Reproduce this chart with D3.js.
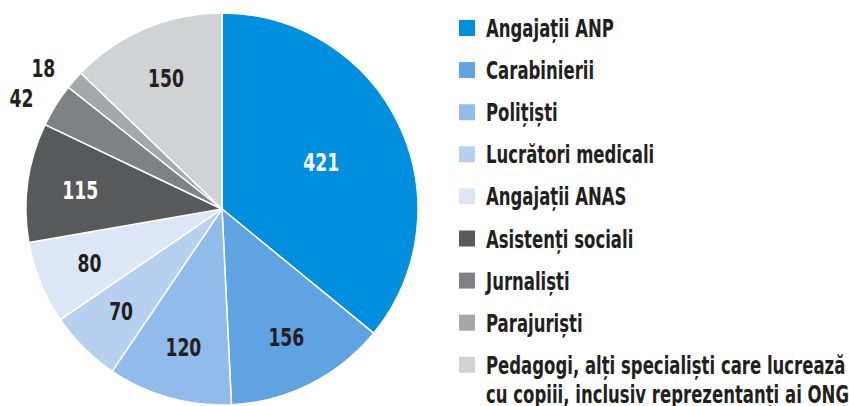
<!DOCTYPE html>
<html>
<head>
<meta charset="utf-8">
<script src="https://cdn.jsdelivr.net/npm/d3@7"></script>
<style>
  body { margin: 0; background: #fff; }
  svg text { font-family: "Liberation Sans Narrow", "DejaVu Sans Condensed", "Roboto", sans-serif; font-weight: bold; }
</style>
</head>
<body>
<div id="chart"></div>
<script>
/* Data */
var categories = ["Angajații ANP", "Carabinierii", "Polițiști", "Lucrători medicali", "Angajații ANAS",
                  "Asistenți sociali", "Jurnaliști", "Parajuriști",
                  "Pedagogi, alți specialiști care lucrează|cu copiii, inclusiv reprezentanți ai ONG"];
var values = [421, 156, 120, 70, 80, 115, 42, 18, 150];
var colors = ["#008fdf", "#5fa3e3", "#90bbeb", "#b8d0f0", "#dde6f7", "#58595b", "#808184", "#a6a7a9", "#d1d2d4"];

var width = 849, height = 406,
    cx = 222, cy = 209, radius = 196,
    squeeze = 0.765;   // fake a condensed face

var svg = d3.select("#chart").append("svg").attr("width", width).attr("height", height);

var data = values.map(function(v, i) { return {name: categories[i], value: v, color: colors[i]}; });

var pie = d3.pie().sort(null).value(function(d) { return d.value; });
var arc = d3.arc().innerRadius(0).outerRadius(radius);
var arcs = pie(data);

var g = svg.append("g").attr("transform", "translate(" + cx + "," + cy + ")");

g.selectAll("path")
  .data(arcs)
  .enter().append("path")
    .attr("d", arc)
    .attr("fill", function(d) { return d.data.color; })
    .attr("stroke", "#fff")
    .attr("stroke-width", 1.5);

/* label radius: big slice nearer centre, tiny slices outside */
function labelR(d) {
  if (d.data.value > 300) return radius * 0.56;
  if (d.data.value < 50) return radius * 1.17;
  return radius * 0.73;
}

g.selectAll("text.val")
  .data(arcs)
  .enter().append("text")
    .attr("class", "val")
    .attr("transform", function(d) {
      var r = labelR(d);
      var c = d3.arc().innerRadius(r).outerRadius(r).centroid(d);
      if (d.data.value < 50) { c[0] -= 6; c[1] += 10; }
      return "translate(" + c + ") scale(" + squeeze + ",1)";
    })
    .attr("text-anchor", "middle")
    .attr("dy", "0.37em")
    .attr("font-size", 25)
    .attr("fill", function(d) { return (d.data.color == "#008fdf" || d.data.color == "#58595b") ? "#fff" : "#231f20"; })
    .text(function(d) { return d.data.value; });

/* Legend */
var legend = svg.append("g").attr("transform", "translate(459,20)");
var row = 42.1;

var item = legend.selectAll("g")
  .data(data)
  .enter().append("g")
    .attr("transform", function(d, i) { return "translate(0," + (i * row) + ")"; });

item.append("rect")
    .attr("width", 16)
    .attr("height", 16)
    .attr("fill", function(d) { return d.color; });

item.append("text")
    .attr("transform", "translate(27,17) scale(" + squeeze + ",1)")
    .attr("font-size", 24)
    .attr("fill", "#231f20")
  .selectAll("tspan")
  .data(function(d) { return d.name.split("|"); })
  .enter().append("tspan")
    .attr("x", 0)
    .attr("dy", function(d, i) { return i ? 29 : 0; })
    .text(function(d) { return d; });
</script>
</body>
</html>
